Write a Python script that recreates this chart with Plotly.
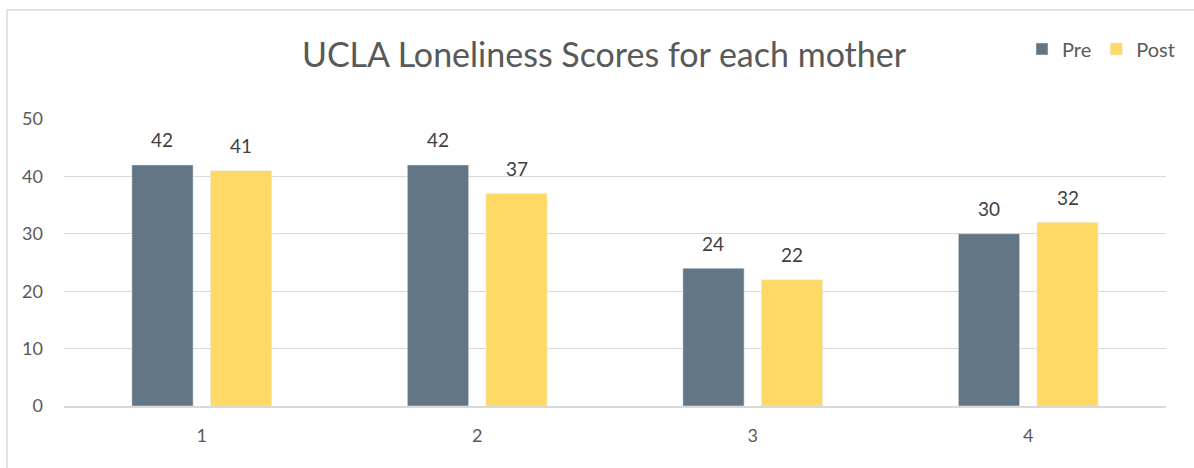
import plotly.graph_objects as go

categories = ["1", "2", "3", "4"]
pre_values = [42, 42, 24, 30]
post_values = [41, 37, 22, 32]
y_ticks = [0, 10, 20, 30, 40, 50]

PRE_COLOR = "#637685"
POST_COLOR = "#FFD966"
FONT = "Lato, Noto Sans, sans-serif"

fig = go.Figure()
fig.add_trace(go.Bar(name="Pre", x=categories, y=pre_values, marker_color=PRE_COLOR, hoverinfo="x+y"))
fig.add_trace(go.Bar(name="Post", x=categories, y=post_values, marker_color=POST_COLOR, hoverinfo="x+y"))

off = 0.143
for i, (a, b) in enumerate(zip(pre_values, post_values)):
    for xv, v in ((i - off, a), (i + off, b)):
        fig.add_annotation(x=xv, y=v, xref="x", yref="y", text=str(v), showarrow=False,
                           yshift=25, font=dict(size=19, color="#404040", family=FONT))

L, R, T, B = 64, 28, 119, 62
W, H = 1194, 468
pw, ph = W - L - R, H - T - B

def px_x(p):
    return (p - L) / pw

def px_y(p):
    return (H - B - p) / ph

fig.add_shape(type="rect", xref="paper", yref="paper",
              x0=px_x(7), x1=px_x(1300), y0=px_y(600), y1=px_y(10),
              line=dict(color="#d9d9d9", width=1.5), fillcolor="rgba(0,0,0,0)", layer="below")

fig.update_layout(
    width=W, height=H,
    margin=dict(l=L, r=R, t=T, b=B),
    paper_bgcolor="white", plot_bgcolor="white",
    barmode="group", bargap=0.43, bargroupgap=0.22,
    title=dict(text="UCLA Loneliness Scores for each mother", x=604 / W, xref="container",
               xanchor="center", y=1 - 55 / H, yref="container", yanchor="middle",
               font=dict(size=34, color="#595959", family=FONT)),
    legend=dict(orientation="h", x=px_x(1022), y=px_y(49), xref="paper", yref="paper",
                xanchor="left", yanchor="middle", font=dict(size=20, color="#595959", family=FONT),
                itemwidth=30, traceorder="normal", bgcolor="rgba(0,0,0,0)"),
    font=dict(family=FONT, color="#595959"),
    xaxis=dict(type="category", showgrid=False, showline=True, linecolor="#d9d9d9", linewidth=1.5,
               ticks="", tickfont=dict(size=18, color="#595959"), ticklabelstandoff=13),
    yaxis=dict(range=[0, 50], tickvals=y_ticks, showgrid=True, gridcolor="#d9d9d9", gridwidth=1,
               zeroline=False, showline=False, ticks="", tickfont=dict(size=18, color="#595959"),
               ticklabelstandoff=20),
)

fig.write_html("out.html")
